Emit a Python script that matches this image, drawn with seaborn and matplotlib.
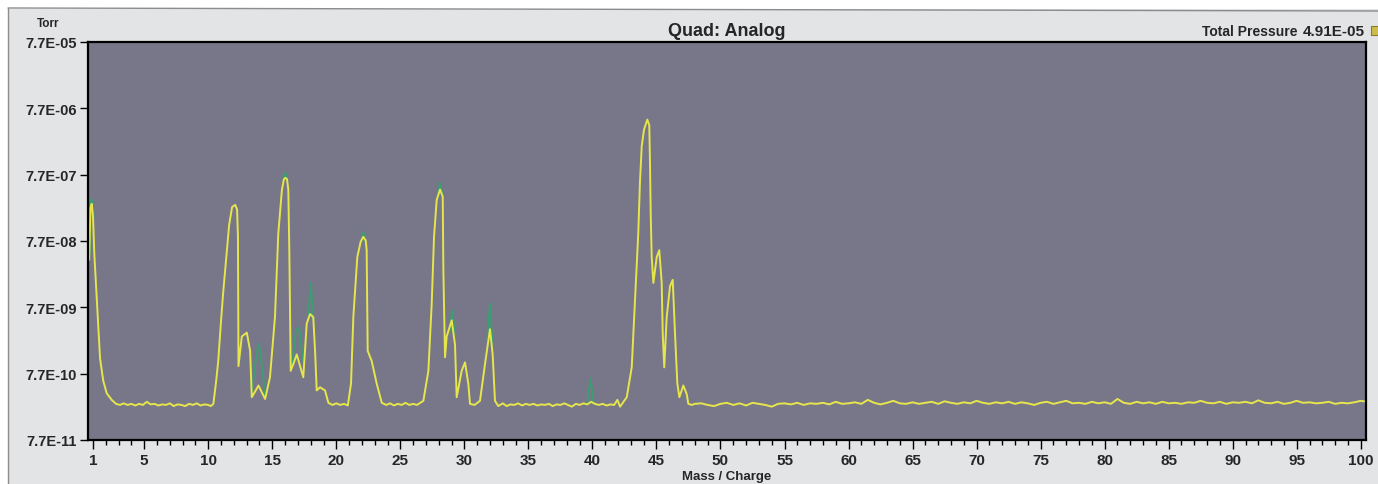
import numpy as np
import pandas as pd
import matplotlib
matplotlib.use("Agg")
import matplotlib.pyplot as plt
import seaborn as sns
from matplotlib.ticker import FixedLocator, NullLocator
from matplotlib.lines import Line2D
from matplotlib.patches import Rectangle

# === Barrido analógico del cuadrupolo: m/z y presión parcial (Torr) ===
scan_mass = [
    0.70, 0.80, 0.90, 1.00, 1.10, 1.30, 1.42, 1.55, 1.80, 2.07, 2.46,
    2.8, 3.1, 3.4, 3.7, 4.0, 4.3, 4.6, 4.9, 5.2, 5.5, 5.8, 6.1, 6.4,
    6.7, 7.0, 7.3, 7.6, 7.9, 8.2, 8.5, 8.8, 9.1, 9.4, 9.7, 10.0, 10.2,
    10.40, 10.62, 10.78, 11.00, 11.16, 11.39, 11.63, 11.86, 12.10, 12.25, 12.32, 12.36,
    12.62, 13.01, 13.27, 13.40, 13.92, 14.44, 14.82, 15.21, 15.47, 15.75, 15.90, 16.01, 16.15, 16.25,
    16.33, 16.44, 16.66, 16.91, 17.17, 17.42, 17.69, 17.95, 18.20, 18.34, 18.47, 18.73, 19.12,
    19.38, 19.7, 20.0, 20.3, 20.6, 20.9,
    21.15, 21.33, 21.64, 21.90, 22.11, 22.30, 22.37, 22.45, 22.76, 23.15, 23.55,
    23.9, 24.2, 24.5, 24.8, 25.1, 25.4, 25.7, 26.0, 26.3, 26.56,
    26.80, 27.19, 27.45, 27.63, 27.84, 28.10, 28.31, 28.36, 28.49, 28.62, 29.01, 29.27,
    29.40, 29.79, 30.05, 30.31, 30.44, 30.8, 31.22, 31.61, 32.00, 32.21, 32.39, 32.65,
    33.0, 33.3, 33.6, 33.9, 34.2, 34.5, 34.8, 35.1, 35.4, 35.7, 36.0, 36.3, 36.6, 36.9, 37.2, 37.5,
    37.8, 38.1, 38.4, 38.7, 39.0, 39.3, 39.6, 39.9, 40.2, 40.5, 40.8, 41.1, 41.4, 41.7, 41.95,
    42.16, 42.68, 43.07, 43.20, 43.33, 43.46, 43.58, 43.71, 43.85, 44.03, 44.29, 44.44,
    44.50, 44.55, 44.63, 44.76, 45.02, 45.22, 45.41, 45.49, 45.61, 45.80, 46.06, 46.27,
    46.45, 46.63, 46.79, 47.10, 47.36, 47.49, 47.75,
]
scan_torr = [
    4.0e-8, 2.4e-7, 2.8e-7, 1.8e-7, 5.0e-8, 9.8e-9, 3.8e-9, 1.3e-9, 6.0e-10, 3.9e-10, 3.1e-10,
    2.7e-10, 2.6e-10, 2.75e-10, 2.6e-10, 2.7e-10, 2.55e-10, 2.7e-10, 2.6e-10, 2.9e-10, 2.65e-10, 2.7e-10, 2.55e-10, 2.65e-10,
    2.6e-10, 2.75e-10, 2.5e-10, 2.65e-10, 2.6e-10, 2.5e-10, 2.7e-10, 2.6e-10, 2.75e-10, 2.55e-10, 2.65e-10, 2.6e-10, 2.5e-10,
    2.7e-10, 6.0e-10, 1.2e-9, 4.9e-9, 1.25e-8, 4.0e-8, 1.34e-7, 2.5e-7, 2.7e-7, 2.3e-7, 9.0e-8, 1.0e-9,
    2.8e-9, 3.2e-9, 1.7e-9, 3.4e-10, 5.1e-10, 3.2e-10, 6.8e-10, 5.5e-9, 1.0e-7, 4.5e-7, 6.5e-7, 6.9e-7, 6.6e-7, 4.6e-7,
    5.6e-8, 8.5e-10, 1.1e-9, 1.5e-9, 1.0e-9, 6.8e-10, 4.4e-9, 6.1e-9, 5.5e-9, 1.7e-9, 4.3e-10, 4.8e-10, 4.3e-10,
    2.8e-10, 2.6e-10, 2.75e-10, 2.6e-10, 2.7e-10, 2.55e-10,
    5.5e-10, 5.5e-9, 4.4e-8, 7.5e-8, 8.9e-8, 7.8e-8, 5.6e-8, 1.7e-9, 1.2e-9, 5.5e-10, 2.8e-10,
    2.6e-10, 2.75e-10, 2.55e-10, 2.7e-10, 2.6e-10, 2.8e-10, 2.6e-10, 2.7e-10, 2.6e-10, 2.8e-10,
    3.0e-10, 8.5e-10, 8.8e-9, 8.9e-8, 3.2e-7, 4.6e-7, 3.6e-7, 2.8e-8, 1.36e-9, 2.8e-9, 4.9e-9, 2.1e-9,
    3.4e-10, 8.5e-10, 1.14e-9, 5.4e-10, 2.7e-10, 2.6e-10, 3.0e-10, 1.07e-9, 3.6e-9, 1.5e-9, 3.0e-10, 2.5e-10,
    2.75e-10, 2.5e-10, 2.65e-10, 2.6e-10, 2.75e-10, 2.55e-10, 2.7e-10, 2.6e-10, 2.7e-10, 2.55e-10, 2.65e-10, 2.6e-10, 2.7e-10, 2.5e-10, 2.65e-10, 2.6e-10,
    2.75e-10, 2.6e-10, 2.45e-10, 2.7e-10, 2.6e-10, 2.75e-10, 2.65e-10, 2.9e-10, 2.7e-10, 2.6e-10, 2.7e-10, 2.55e-10, 2.65e-10, 2.6e-10, 3.1e-10,
    2.45e-10, 3.4e-10, 9.6e-10, 3.1e-9, 9.8e-9, 3.2e-8, 1.0e-7, 5.8e-7, 2.06e-6, 3.7e-6, 5.2e-6, 4.3e-6,
    1.03e-6, 2.0e-7, 4.4e-8, 1.8e-8, 4.4e-8, 5.6e-8, 1.8e-8, 3.1e-9, 9.6e-10, 5.5e-9, 1.6e-8, 2.0e-8,
    3.1e-9, 5.5e-10, 3.4e-10, 5.1e-10, 3.8e-10, 2.7e-10, 2.6e-10,
]

# línea base de 48 a 100.5 uma (lecturas cada 0.5 uma, en 1e-10 Torr)
tail_mass = np.arange(48.0, 100.51, 0.5)
tail_torr_e10 = [
    2.7, 2.75, 2.6, 2.5, 2.7, 2.8, 2.6, 2.75, 2.55, 2.8,      # 48-52.5
    2.7, 2.6, 2.45, 2.7, 2.75, 2.65, 2.8, 2.6, 2.75, 2.7,     # 53-57.5
    2.8, 2.65, 2.9, 2.7, 2.75, 2.85, 2.7, 3.1, 2.8, 2.65,     # 58-62.5
    2.8, 3.0, 2.75, 2.7, 2.85, 2.7, 2.8, 2.9, 2.7, 2.95,      # 63-67.5
    2.8, 2.7, 2.85, 2.75, 3.0, 2.8, 2.7, 2.85, 2.75, 2.9,     # 68-72.5
    2.7, 2.85, 2.75, 2.6, 2.8, 2.9, 2.7, 2.85, 3.0, 2.75,     # 73-77.5
    2.8, 2.7, 2.9, 2.75, 2.85, 2.7, 3.2, 2.8, 2.7, 2.9,       # 78-82.5
    2.75, 2.85, 2.7, 2.9, 2.75, 2.8, 2.7, 2.85, 2.8, 3.0,     # 83-87.5
    2.8, 2.75, 2.9, 2.7, 2.85, 2.8, 2.9, 2.75, 3.05, 2.8,     # 88-92.5
    2.75, 2.9, 2.7, 2.8, 3.0, 2.8, 2.85, 2.75, 2.8, 2.9,      # 93-97.5
    2.7, 2.8, 2.75, 2.85, 3.0, 2.9,                           # 98-100.5
]

# barrido anterior (verde), solo donde asoma por encima del actual
prev_mass = [0.75, 0.85, 0.95, 1.05,
             13.40, 13.70, 13.95, 14.20, 14.45,
             15.85, 16.00, 16.15,
             16.55, 16.85, 17.10, 17.40,
             17.80, 18.00, 18.20,
             21.95, 22.10, 22.25,
             27.90, 28.10, 28.30,
             28.85, 29.05, 29.25,
             31.80, 32.00, 32.20,
             39.60, 39.85, 40.10]
prev_torr = [5e-8, 3.3e-7, 3.0e-7, 1.8e-7,
             4e-10, 1.2e-9, 2.2e-9, 1.0e-9, 3.5e-10,
             6.5e-7, 8.3e-7, 6.6e-7,
             1.0e-9, 3.5e-9, 3.8e-9, 1.2e-9,
             5e-9, 1.8e-8, 5e-9,
             7.5e-8, 1.05e-7, 7.8e-8,
             3.5e-7, 5.8e-7, 3.6e-7,
             3.5e-9, 7.0e-9, 3.0e-9,
             2.5e-9, 8.8e-9, 2.0e-9,
             2.7e-10, 6.5e-10, 2.7e-10]
prev_peak = [1] * 4 + [14] * 5 + [16] * 3 + [17] * 4 + [18] * 3 + [22] * 3 + [28] * 3 + [29] * 3 + [32] * 3 + [40] * 3

x_major = [1, 5, 10, 15, 20, 25, 30, 35, 40, 45, 50, 55, 60, 65, 70, 75, 80, 85, 90, 95, 100]
y_ticks = [7.7e-11, 7.7e-10, 7.7e-9, 7.7e-8, 7.7e-7, 7.7e-6, 7.7e-5]
y_labels = ["7.7E-11", "7.7E-10", "7.7E-09", "7.7E-08", "7.7E-07", "7.7E-06", "7.7E-05"]
total_pressure = "4.91E-05"

assert len(scan_mass) == len(scan_torr)
assert len(tail_mass) == len(tail_torr_e10)
assert len(prev_mass) == len(prev_torr) == len(prev_peak)

scan = pd.DataFrame({
    "mass": np.concatenate([scan_mass, tail_mass]),
    "torr": np.concatenate([scan_torr, np.array(tail_torr_e10) * 1e-10]),
})
prev = pd.DataFrame({"mass": prev_mass, "torr": prev_torr, "peak": prev_peak})

# === Estilo ===
sns.set_theme(style="ticks")
plt.rcParams["font.family"] = ["Liberation Sans", "DejaVu Sans"]
plt.rcParams["font.weight"] = "bold"
narrow = ["Liberation Sans Narrow", "Liberation Sans", "DejaVu Sans"]

W, H = 1378, 485
fig = plt.figure(figsize=(W / 100, H / 100), dpi=100, facecolor="white")
fig.add_artist(Rectangle((8 / W, 0), 1 - 8 / W, 1 - 10 / H, transform=fig.transFigure,
                         facecolor="#e3e4e6", edgecolor="none", zorder=-10))
fig.add_artist(Line2D([8 / W, 1], [1 - 9 / H, 1 - 12 / H], color="#8c8c8c", lw=1))
fig.add_artist(Line2D([8 / W, 8 / W], [0, 1 - 9 / H], color="#8c8c8c", lw=1))

ax = fig.add_axes([87.5 / W, 1 - 441 / H, (1366 - 87.5) / W, (441 - 43) / H])
ax.set_facecolor("#787789")
ax.set_yscale("log")

sns.lineplot(data=prev, x="mass", y="torr", units="peak", estimator=None, sort=False,
             color="#3c9d72", linewidth=1.4, ax=ax)
sns.lineplot(data=scan, x="mass", y="torr", estimator=None, sort=False,
             color="#e6e64c", linewidth=1.4, ax=ax)

ax.set_xlim(0.57, 100.41)
ax.set_ylim(7.7e-11, 7.7e-5)
ax.xaxis.set_major_locator(FixedLocator(x_major))
ax.xaxis.set_minor_locator(FixedLocator(list(range(1, 101))))
ax.set_yticks(y_ticks, y_labels)
ax.yaxis.set_minor_locator(NullLocator())

ax.tick_params(axis="x", which="major", length=6.5, width=1, pad=3, labelsize=11, color="black")
ax.tick_params(axis="x", which="minor", length=3.5, width=1, color="black")
ax.tick_params(axis="y", length=5.5, width=1, pad=2, labelsize=10.5, color="black")
for lbl in ax.get_xticklabels():
    lbl.set_fontfamily(narrow)
    lbl.set_fontweight("bold")
for lbl in ax.get_yticklabels():
    lbl.set_fontweight("bold")

for s in ax.spines.values():
    s.set_visible(True)
    s.set_color("black")
    s.set_linewidth(1.6)

ax.set_xlabel("Mass / Charge", fontsize=9.5, fontweight="bold")
ax.xaxis.set_label_coords(0.5, (441 - 471) / 398)
ax.set_ylabel("")
ax.set_title("Quad: Analog", fontsize=13, fontweight="bold", pad=5)

fig.text(48 / W, 1 - 24 / H, "Torr", ha="center", va="center", fontsize=8.5, fontweight="bold")
fig.text(1297 / W, 1 - 32 / H, "Total Pressure", ha="right", va="center", fontsize=10, fontweight="bold")
fig.text(1303 / W, 1 - 32 / H, total_pressure, ha="left", va="center", fontsize=11, fontweight="bold")
fig.add_artist(Rectangle((1371 / W, 1 - 36 / H), 8 / W, 9 / H, transform=fig.transFigure,
                         facecolor="#cdbd4c", edgecolor="#8a7a2a", lw=0.8))

fig.savefig("out.png", dpi=100, facecolor="white")
